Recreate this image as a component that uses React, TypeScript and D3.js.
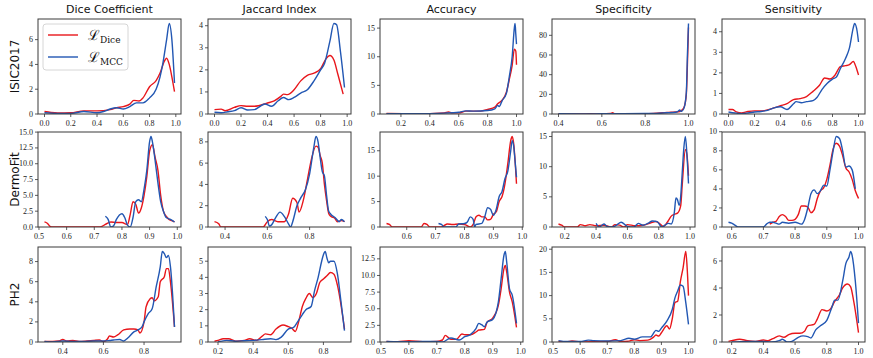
import React from 'react';
import * as d3 from 'd3';

type Pt = [number, number];

const datasets = ['ISIC2017', 'DermoFit', 'PH2'];
const metrics = ['Dice Coefficient', 'Jaccard Index', 'Accuracy', 'Specificity', 'Sensitivity'];
const lossNames = ['Dice', 'MCC'];

// ---- ISIC2017 ----
const isicDiceD: Pt[] = [[0, 0.2], [0.05, 0.12], [0.1, 0.08], [0.2, 0.1], [0.3, 0.25], [0.4, 0.25], [0.5, 0.35], [0.55, 0.5], [0.6, 0.6], [0.65, 0.8], [0.68, 1.1], [0.72, 1.05], [0.75, 1.3], [0.8, 2.2], [0.85, 2.7], [0.88, 3.3], [0.91, 4.2], [0.93, 4.5], [0.95, 4.0], [0.97, 3.0], [0.99, 1.8]];
const isicDiceM: Pt[] = [[0, 0.1], [0.1, 0.05], [0.2, 0.05], [0.3, 0.2], [0.4, 0.1], [0.45, 0.2], [0.5, 0.4], [0.55, 0.5], [0.6, 0.4], [0.65, 0.6], [0.7, 0.9], [0.75, 0.9], [0.8, 1.3], [0.85, 2.0], [0.88, 3.0], [0.9, 4.0], [0.93, 6.0], [0.95, 7.3], [0.97, 6.0], [0.99, 2.5]];
const isicJacD: Pt[] = [[0, 0.2], [0.05, 0.22], [0.08, 0.15], [0.15, 0.3], [0.2, 0.38], [0.25, 0.35], [0.3, 0.35], [0.4, 0.5], [0.45, 0.6], [0.5, 0.8], [0.52, 0.9], [0.55, 0.88], [0.6, 1.1], [0.65, 1.5], [0.7, 1.75], [0.75, 1.85], [0.8, 2.05], [0.84, 2.5], [0.87, 2.65], [0.9, 2.45], [0.93, 1.8], [0.97, 0.9]];
const isicJacM: Pt[] = [[0, 0.08], [0.05, 0.06], [0.1, 0.1], [0.15, 0.15], [0.2, 0.28], [0.25, 0.18], [0.3, 0.2], [0.38, 0.45], [0.43, 0.35], [0.48, 0.6], [0.52, 0.75], [0.56, 0.65], [0.6, 0.75], [0.65, 0.95], [0.7, 1.1], [0.75, 1.5], [0.8, 2.0], [0.83, 2.3], [0.87, 3.3], [0.9, 4.1], [0.92, 4.05], [0.95, 2.8], [0.98, 1.2]];
const isicAccD: Pt[] = [[0.1, 0.1], [0.3, 0.05], [0.5, 0.2], [0.53, 0.35], [0.55, 0.2], [0.6, 0.2], [0.65, 0.5], [0.7, 0.5], [0.75, 0.5], [0.8, 0.8], [0.85, 1.2], [0.87, 1.8], [0.9, 2.4], [0.93, 3.8], [0.95, 6.0], [0.97, 8.5], [0.985, 11.3], [0.995, 11.0], [1.0, 8.6]];
const isicAccM: Pt[] = [[0.1, 0.05], [0.3, 0.05], [0.5, 0.15], [0.6, 0.3], [0.65, 0.55], [0.7, 0.5], [0.8, 0.6], [0.85, 0.9], [0.87, 1.5], [0.88, 1.3], [0.9, 2.3], [0.93, 3.6], [0.95, 6.5], [0.97, 10], [0.985, 15.0], [0.99, 15.8], [0.995, 14], [1.0, 12.2]];
const isicSpeD: Pt[] = [[0.4, 0.3], [0.45, 0.1], [0.5, 0.1], [0.55, 0.2], [0.6, 0.1], [0.64, 0.5], [0.65, 1.2], [0.66, 0.3], [0.7, 0.2], [0.75, 0.4], [0.8, 0.3], [0.85, 0.8], [0.88, 1.2], [0.9, 1.5], [0.92, 1.8], [0.94, 2.0], [0.96, 2.5], [0.97, 4], [0.98, 7], [0.99, 20], [0.995, 50], [1.0, 88]];
const isicSpeM: Pt[] = [[0.4, 0.2], [0.5, 0.1], [0.6, 0.2], [0.7, 0.3], [0.8, 0.5], [0.85, 0.6], [0.9, 1.2], [0.93, 1.5], [0.95, 2.5], [0.96, 4.0], [0.965, 2.8], [0.97, 3.0], [0.98, 6.5], [0.99, 22], [0.995, 60], [1.0, 92]];
const isicSenD: Pt[] = [[0, 0.22], [0.03, 0.22], [0.06, 0.1], [0.1, 0.05], [0.15, 0.12], [0.2, 0.15], [0.25, 0.15], [0.3, 0.2], [0.35, 0.3], [0.4, 0.4], [0.45, 0.5], [0.5, 0.7], [0.55, 0.75], [0.6, 0.85], [0.65, 1.1], [0.7, 1.4], [0.74, 1.75], [0.78, 1.7], [0.82, 1.9], [0.86, 2.3], [0.9, 2.35], [0.93, 2.4], [0.96, 2.55], [0.98, 2.3], [1.0, 1.9]];
const isicSenM: Pt[] = [[0, 0.1], [0.05, 0.05], [0.1, 0.02], [0.15, 0.05], [0.2, 0.1], [0.25, 0.12], [0.3, 0.18], [0.35, 0.3], [0.4, 0.35], [0.45, 0.22], [0.5, 0.5], [0.52, 0.6], [0.56, 0.55], [0.6, 0.6], [0.65, 0.65], [0.68, 0.8], [0.72, 1.2], [0.76, 1.5], [0.8, 1.7], [0.83, 1.8], [0.86, 2.2], [0.9, 2.7], [0.93, 3.2], [0.96, 4.2], [0.97, 4.4], [0.99, 4.0], [1.0, 3.5]];

// ---- DermoFit ----
const dermDiceD: Pt[] = [[0.52, 0.8], [0.53, 0.6], [0.54, 0.1], [0.55, 0], [0.72, 0], [0.74, 0.4], [0.76, 0.8], [0.78, 0.7], [0.8, 0.7], [0.82, 0.4], [0.83, 2.0], [0.84, 4.0], [0.85, 3.6], [0.86, 2.2], [0.87, 3.0], [0.88, 5.0], [0.89, 8.0], [0.9, 12.0], [0.91, 13.0], [0.92, 11.0], [0.93, 9.0], [0.94, 5.0], [0.95, 2.5], [0.96, 1.7], [0.97, 1.2], [0.98, 1.0], [0.99, 0.8]];
const dermDiceM: Pt[] = [[0.74, 1.7], [0.75, 1.2], [0.76, 0], [0.77, 0.2], [0.78, 1.2], [0.8, 2.1], [0.81, 1.5], [0.82, 0.3], [0.83, 0], [0.84, 1.5], [0.85, 4.0], [0.86, 4.3], [0.87, 4.0], [0.88, 6.0], [0.89, 9.0], [0.9, 13.5], [0.905, 14.3], [0.91, 13.5], [0.92, 10.5], [0.93, 7.0], [0.94, 4.0], [0.95, 2.5], [0.96, 1.5], [0.97, 1.3], [0.98, 1.1], [0.99, 0.8]];
const dermJacD: Pt[] = [[0.35, 0.5], [0.37, 0.3], [0.38, 0], [0.58, 0], [0.6, 0.5], [0.62, 0.7], [0.65, 0.5], [0.68, 0.5], [0.7, 1.2], [0.72, 2.7], [0.74, 2.3], [0.75, 1.4], [0.77, 2.5], [0.79, 4.5], [0.81, 6.5], [0.83, 7.6], [0.84, 7.5], [0.85, 6.7], [0.86, 6.0], [0.87, 4.0], [0.88, 2.5], [0.89, 1.3], [0.9, 1.0], [0.92, 0.8], [0.93, 0.5], [0.95, 0.6], [0.965, 0.5]];
const dermJacM: Pt[] = [[0.59, 1.0], [0.6, 0.7], [0.61, 0.1], [0.62, 0.2], [0.64, 0.9], [0.66, 1.4], [0.68, 1.0], [0.7, 0.3], [0.71, 0], [0.72, 0.5], [0.74, 2.0], [0.76, 2.8], [0.78, 3.5], [0.8, 5.0], [0.82, 7.5], [0.83, 8.5], [0.84, 8.0], [0.85, 6.5], [0.86, 5.2], [0.87, 4.8], [0.88, 3.0], [0.89, 1.5], [0.9, 1.2], [0.92, 0.9], [0.94, 0.5], [0.95, 0.7], [0.965, 0.5]];
const dermAccD: Pt[] = [[0.53, 0.7], [0.54, 0.5], [0.55, 0], [0.65, 0], [0.66, 0.7], [0.67, 0.5], [0.68, 0], [0.72, 0], [0.73, 0.3], [0.74, 0.6], [0.76, 0.5], [0.78, 0.6], [0.8, 0.5], [0.82, 0], [0.83, 0.5], [0.84, 2.0], [0.85, 2.3], [0.86, 2.0], [0.87, 2.0], [0.88, 1.4], [0.89, 1.5], [0.9, 2.5], [0.91, 3.0], [0.92, 5.0], [0.93, 6.0], [0.94, 8.5], [0.95, 12.5], [0.96, 17.0], [0.965, 17.8], [0.97, 16.5], [0.98, 8.5]];
const dermAccM: Pt[] = [[0.71, 0.7], [0.72, 0.5], [0.73, 0], [0.77, 0], [0.78, 0.6], [0.8, 0.7], [0.81, 1.0], [0.82, 2.0], [0.83, 1.5], [0.835, 0], [0.84, 0.5], [0.86, 0.7], [0.87, 2.0], [0.88, 3.8], [0.89, 3.5], [0.9, 2.3], [0.91, 3.5], [0.92, 6.0], [0.93, 7.0], [0.94, 9.5], [0.95, 11.0], [0.96, 15.0], [0.965, 17.0], [0.97, 16.0], [0.975, 13.0], [0.98, 9.8]];
const dermSpeD: Pt[] = [[0.16, 0.5], [0.18, 0.3], [0.2, 0], [0.28, 0], [0.3, 0.4], [0.33, 0.2], [0.36, 0.4], [0.4, 0.2], [0.45, 0.3], [0.5, 0], [0.52, 0.4], [0.55, 0.3], [0.58, 0], [0.6, 0.4], [0.65, 0.2], [0.7, 0.3], [0.75, 0.7], [0.78, 0.9], [0.8, 0.7], [0.83, 0.1], [0.86, 1.0], [0.88, 1.8], [0.9, 2.1], [0.92, 2.3], [0.94, 3.5], [0.95, 7.0], [0.97, 12.8], [0.98, 12.0], [0.99, 8.5]];
const dermSpeM: Pt[] = [[0.4, 0.6], [0.42, 0], [0.45, 0.5], [0.47, 0.1], [0.5, 0], [0.53, 0.3], [0.56, 0.8], [0.6, 0.1], [0.64, 0], [0.67, 0.6], [0.7, 0.3], [0.73, 0.6], [0.76, 1.0], [0.79, 0.9], [0.82, 0], [0.84, 0.3], [0.86, 0.6], [0.88, 0.5], [0.9, 2.5], [0.91, 4.8], [0.92, 4.5], [0.93, 3.6], [0.94, 5.0], [0.95, 9.0], [0.96, 13.0], [0.97, 15.0], [0.98, 12.0], [0.99, 7.2]];
const dermSenD: Pt[] = [[0.72, 0.3], [0.73, 0.5], [0.74, 0.6], [0.75, 1.1], [0.76, 1.3], [0.77, 1.1], [0.78, 0.7], [0.79, 0.7], [0.8, 0.8], [0.81, 1.3], [0.82, 2.2], [0.83, 2.2], [0.84, 2.1], [0.85, 1.5], [0.86, 1.8], [0.87, 3.0], [0.88, 3.8], [0.89, 4.1], [0.9, 5.0], [0.91, 6.5], [0.92, 8.2], [0.93, 8.8], [0.94, 8.5], [0.95, 7.5], [0.96, 6.2], [0.97, 5.8], [0.98, 5.0], [0.99, 3.8], [1.0, 3.0]];
const dermSenM: Pt[] = [[0.59, 0.5], [0.6, 0.4], [0.61, 0.2], [0.62, 0], [0.7, 0], [0.71, 0.3], [0.72, 0.5], [0.73, 0.5], [0.74, 0.4], [0.75, 0.3], [0.76, 0.5], [0.78, 0.4], [0.8, 0.5], [0.82, 0.3], [0.83, 0.8], [0.84, 2.0], [0.85, 3.5], [0.86, 3.9], [0.87, 3.5], [0.88, 3.8], [0.89, 4.4], [0.9, 4.3], [0.91, 6.0], [0.92, 8.0], [0.93, 9.5], [0.94, 9.3], [0.95, 8.0], [0.96, 6.3], [0.97, 6.4], [0.98, 6.0], [0.99, 4.0]];

// ---- PH2 ----
const ph2DiceD: Pt[] = [[0.31, 0.05], [0.35, 0.05], [0.38, 0.1], [0.4, 0.25], [0.42, 0.1], [0.45, 0.15], [0.48, 0.05], [0.52, 0.1], [0.55, 0.15], [0.58, 0.2], [0.6, 0.05], [0.62, 0.3], [0.63, 0.6], [0.65, 0.5], [0.67, 0.7], [0.7, 1.2], [0.73, 1.3], [0.75, 1.3], [0.77, 1.2], [0.78, 0.9], [0.8, 2.0], [0.81, 3.5], [0.83, 4.3], [0.84, 4.4], [0.85, 4.1], [0.87, 4.5], [0.88, 6.0], [0.9, 6.5], [0.91, 7.3], [0.92, 7.3], [0.93, 6.0], [0.95, 1.5]];
const ph2DiceM: Pt[] = [[0.31, 0.05], [0.35, 0], [0.4, 0.1], [0.45, 0.05], [0.5, 0.05], [0.55, 0.1], [0.6, 0.1], [0.63, 0.15], [0.65, 0.2], [0.68, 0.25], [0.7, 0.1], [0.72, 0.4], [0.75, 1.0], [0.77, 1.2], [0.79, 1.5], [0.8, 2.0], [0.82, 2.8], [0.84, 3.3], [0.86, 5.5], [0.88, 7.5], [0.89, 9.0], [0.9, 8.8], [0.91, 8.4], [0.92, 8.6], [0.93, 7.5], [0.95, 1.5]];
const ph2JacD: Pt[] = [[0.18, 0.05], [0.2, 0.1], [0.23, 0.2], [0.26, 0.2], [0.3, 0.05], [0.35, 0.1], [0.38, 0.2], [0.42, 0.1], [0.45, 0.35], [0.47, 0.5], [0.5, 0.45], [0.53, 0.8], [0.57, 1.05], [0.6, 0.95], [0.62, 0.85], [0.64, 0.65], [0.66, 1.3], [0.68, 2.2], [0.7, 2.7], [0.72, 3.0], [0.74, 2.75], [0.76, 3.0], [0.78, 3.7], [0.8, 3.9], [0.82, 4.1], [0.84, 4.3], [0.86, 4.2], [0.88, 3.5], [0.92, 0.8]];
const ph2JacM: Pt[] = [[0.2, 0], [0.25, 0.1], [0.3, 0.05], [0.35, 0.08], [0.4, 0.1], [0.45, 0.15], [0.5, 0.2], [0.53, 0.15], [0.56, 0.3], [0.6, 0.8], [0.63, 0.9], [0.65, 1.2], [0.68, 1.7], [0.7, 2.0], [0.73, 2.2], [0.75, 3.2], [0.77, 4.0], [0.79, 5.0], [0.8, 5.4], [0.81, 5.6], [0.82, 5.2], [0.83, 4.9], [0.84, 5.0], [0.86, 5.0], [0.88, 4.2], [0.9, 2.5], [0.92, 0.7]];
const ph2AccD: Pt[] = [[0.52, 0.1], [0.56, 0.05], [0.6, 0.2], [0.65, 0.05], [0.7, 0.1], [0.72, 0.3], [0.73, 1.0], [0.75, 0.4], [0.77, 0.4], [0.79, 1.2], [0.8, 1.1], [0.82, 1.1], [0.84, 1.5], [0.85, 1.8], [0.87, 1.9], [0.88, 3.0], [0.9, 3.6], [0.92, 5.5], [0.93, 8.0], [0.94, 11.0], [0.945, 11.5], [0.95, 10.5], [0.96, 7.5], [0.97, 6.0], [0.985, 2.2]];
const ph2AccM: Pt[] = [[0.52, 0.1], [0.6, 0.05], [0.7, 0.1], [0.72, 0], [0.75, 0.6], [0.78, 0.3], [0.8, 0.8], [0.82, 1.1], [0.84, 2.0], [0.85, 2.8], [0.86, 2.6], [0.87, 2.3], [0.88, 3.0], [0.9, 3.4], [0.92, 6.0], [0.93, 9.5], [0.94, 13.0], [0.945, 13.6], [0.95, 12.0], [0.96, 8.0], [0.97, 7.0], [0.985, 2.8]];
const ph2SpeD: Pt[] = [[0.52, 0.1], [0.55, 0], [0.57, 0.2], [0.6, 0], [0.7, 0.1], [0.73, 0.5], [0.75, 0.1], [0.78, 0.2], [0.8, 0.5], [0.82, 0.3], [0.85, 0.4], [0.87, 1.0], [0.88, 1.5], [0.89, 1.3], [0.9, 2.0], [0.92, 3.5], [0.93, 2.8], [0.94, 5.0], [0.95, 8.5], [0.96, 8.8], [0.97, 13.0], [0.98, 16.0], [0.99, 19.5], [0.995, 16], [1.0, 10.0]];
const ph2SpeM: Pt[] = [[0.52, 0.3], [0.55, 0.1], [0.6, 0.1], [0.63, 0.4], [0.65, 0.3], [0.7, 0.2], [0.75, 0.3], [0.78, 0.8], [0.8, 0.6], [0.83, 1.1], [0.86, 1.1], [0.88, 2.5], [0.89, 2.3], [0.9, 3.0], [0.92, 4.5], [0.94, 7.0], [0.95, 9.5], [0.96, 11.0], [0.97, 12.3], [0.98, 12.0], [0.99, 8.5], [1.0, 3.8]];
const ph2SenD: Pt[] = [[0.18, 0.05], [0.2, 0.1], [0.25, 0.2], [0.3, 0.1], [0.35, 0.05], [0.4, 0.15], [0.43, 0.1], [0.46, 0.25], [0.5, 0.45], [0.53, 0.35], [0.56, 0.55], [0.6, 0.65], [0.63, 0.65], [0.66, 0.8], [0.68, 1.2], [0.72, 1.3], [0.74, 1.7], [0.77, 2.4], [0.8, 2.3], [0.82, 2.4], [0.85, 3.0], [0.88, 3.5], [0.9, 4.0], [0.93, 4.3], [0.95, 4.1], [0.97, 3.0], [1.0, 0.7]];
const ph2SenM: Pt[] = [[0.2, 0], [0.3, 0.05], [0.4, 0.05], [0.45, 0], [0.5, 0.1], [0.52, 0.2], [0.55, 0], [0.58, 0.05], [0.62, 0.35], [0.65, 0.45], [0.68, 0.4], [0.7, 0.3], [0.73, 0.9], [0.76, 1.2], [0.8, 1.6], [0.83, 2.5], [0.85, 3.1], [0.87, 3.1], [0.9, 4.5], [0.92, 5.8], [0.94, 6.3], [0.95, 6.7], [0.96, 6.4], [0.98, 4.5], [1.0, 1.4]];

// series per [row][col] : [dice loss, mcc loss]
const series: Pt[][][][] = [
  [[isicDiceD, isicDiceM], [isicJacD, isicJacM], [isicAccD, isicAccM], [isicSpeD, isicSpeM], [isicSenD, isicSenM]],
  [[dermDiceD, dermDiceM], [dermJacD, dermJacM], [dermAccD, dermAccM], [dermSpeD, dermSpeM], [dermSenD, dermSenM]],
  [[ph2DiceD, ph2DiceM], [ph2JacD, ph2JacM], [ph2AccD, ph2AccM], [ph2SpeD, ph2SpeM], [ph2SenD, ph2SenM]],
];

const xTicks: number[][][] = [
  [[0, 0.2, 0.4, 0.6, 0.8, 1], [0, 0.2, 0.4, 0.6, 0.8, 1], [0.2, 0.4, 0.6, 0.8, 1], [0.4, 0.6, 0.8, 1], [0, 0.2, 0.4, 0.6, 0.8, 1]],
  [[0.5, 0.6, 0.7, 0.8, 0.9, 1], [0.4, 0.6, 0.8], [0.6, 0.7, 0.8, 0.9, 1], [0.2, 0.4, 0.6, 0.8, 1], [0.6, 0.7, 0.8, 0.9, 1]],
  [[0.4, 0.6, 0.8], [0.2, 0.4, 0.6, 0.8], [0.5, 0.6, 0.7, 0.8, 0.9, 1], [0.5, 0.6, 0.7, 0.8, 0.9, 1], [0.2, 0.4, 0.6, 0.8, 1]],
];
const yTicks: number[][][] = [
  [[0, 2, 4, 6], [0, 1, 2, 3, 4], [0, 5, 10, 15], [0, 20, 40, 60, 80], [0, 1, 2, 3, 4]],
  [[0, 2.5, 5, 7.5, 10, 12.5, 15], [0, 2, 4, 6, 8], [0, 5, 10, 15], [0, 5, 10, 15], [0, 2, 4, 6, 8, 10]],
  [[0, 2, 4, 6, 8], [0, 1, 2, 3, 4, 5], [0, 2.5, 5, 7.5, 10, 12.5], [0, 5, 10, 15, 20], [0, 2, 4, 6]],
];

const colors = ['#e8161b', '#2257b3'];
const colLeft = [38, 208, 380, 552, 722];
const rowTop = [19, 132, 247];
const pw = 143;
const ph = 95;
const tickFont = '"Liberation Serif", "DejaVu Serif", serif';
const sansFont = '"DejaVu Sans", sans-serif';

function Panel({ r, c }: { r: number; c: number }) {
  const data = series[r][c];
  const all = data.flat();
  const [x0, x1] = d3.extent(all, (d) => d[0]) as [number, number];
  const pad = (x1 - x0) * 0.05;
  const yMax = (d3.max(all, (d) => d[1]) as number) * 1.05;
  const x = d3.scaleLinear().domain([x0 - pad, x1 + pad]).range([0, pw]);
  const y = d3.scaleLinear().domain([0, yMax]).range([ph, 0]);
  const line = d3
    .line<Pt>()
    .x((d) => x(d[0]))
    .y((d) => y(d[1]))
    .curve(d3.curveMonotoneX);
  const yt = yTicks[r][c];
  const yDec = yt.some((v) => v % 1 !== 0);
  return (
    <g transform={`translate(${colLeft[c]},${rowTop[r]})`}>
      <defs>
        <clipPath id={`clip-${r}-${c}`}>
          <rect x={0} y={0} width={pw} height={ph} />
        </clipPath>
      </defs>
      <g clipPath={`url(#clip-${r}-${c})`}>
        {data.map((s, i) => (
          <path key={i} d={line(s) || ''} fill="none" stroke={colors[i]} strokeWidth={1.4} />
        ))}
      </g>
      <rect x={0} y={0} width={pw} height={ph} fill="none" stroke="#3a3a3a" strokeWidth={1} />
      {xTicks[r][c].map((t) => (
        <g key={t} transform={`translate(${x(t)},${ph})`}>
          <line y2={3} stroke="#333" strokeWidth={0.8} />
          <text y={11.5} textAnchor="middle" fontSize={8} fontFamily={tickFont} fill="#222">
            {t.toFixed(1)}
          </text>
        </g>
      ))}
      {yt.map((t) => (
        <g key={t} transform={`translate(0,${y(t)})`}>
          <line x2={-3} stroke="#333" strokeWidth={0.8} />
          <text x={-5} dy="0.32em" textAnchor="end" fontSize={8} fontFamily={tickFont} fill="#222">
            {yDec ? t.toFixed(1) : String(t)}
          </text>
        </g>
      ))}
      {r === 0 && (
        <text x={pw / 2} y={-6} textAnchor="middle" fontSize={11} fontFamily={sansFont} fill="#111">
          {metrics[c]}
        </text>
      )}
      {c === 0 && (
        <text
          transform={`translate(-19,${ph / 2}) rotate(-90)`}
          textAnchor="middle"
          fontSize={12}
          fontFamily={sansFont}
          fill="#111"
        >
          {datasets[r]}
        </text>
      )}
    </g>
  );
}

function Legend() {
  return (
    <g transform="translate(43,24)">
      <rect x={0} y={0} width={85} height={46} rx={3} fill="white" fillOpacity={0.85} stroke="#ccc" strokeWidth={0.8} />
      {lossNames.map((n, i) => (
        <g key={n} transform={`translate(0,${11 + i * 22})`}>
          <line x1={5} x2={35} stroke={colors[i]} strokeWidth={1.4} />
          <text x={45} y={5} fontSize={14} fontFamily={'"DejaVu Serif", serif'} fill="#111">
            ℒ
            <tspan dy={3} fontSize={9} fontFamily={'"DejaVu Serif", serif'}>
              {n}
            </tspan>
          </text>
        </g>
      ))}
    </g>
  );
}

export default function App() {
  return (
    <svg
      width={873}
      height={358}
      style={{ position: 'absolute', left: 0, top: 0, background: 'white' }}
    >
      {datasets.map((_, r) => metrics.map((__, c) => <Panel key={`${r}-${c}`} r={r} c={c} />))}
      <Legend />
    </svg>
  );
}
